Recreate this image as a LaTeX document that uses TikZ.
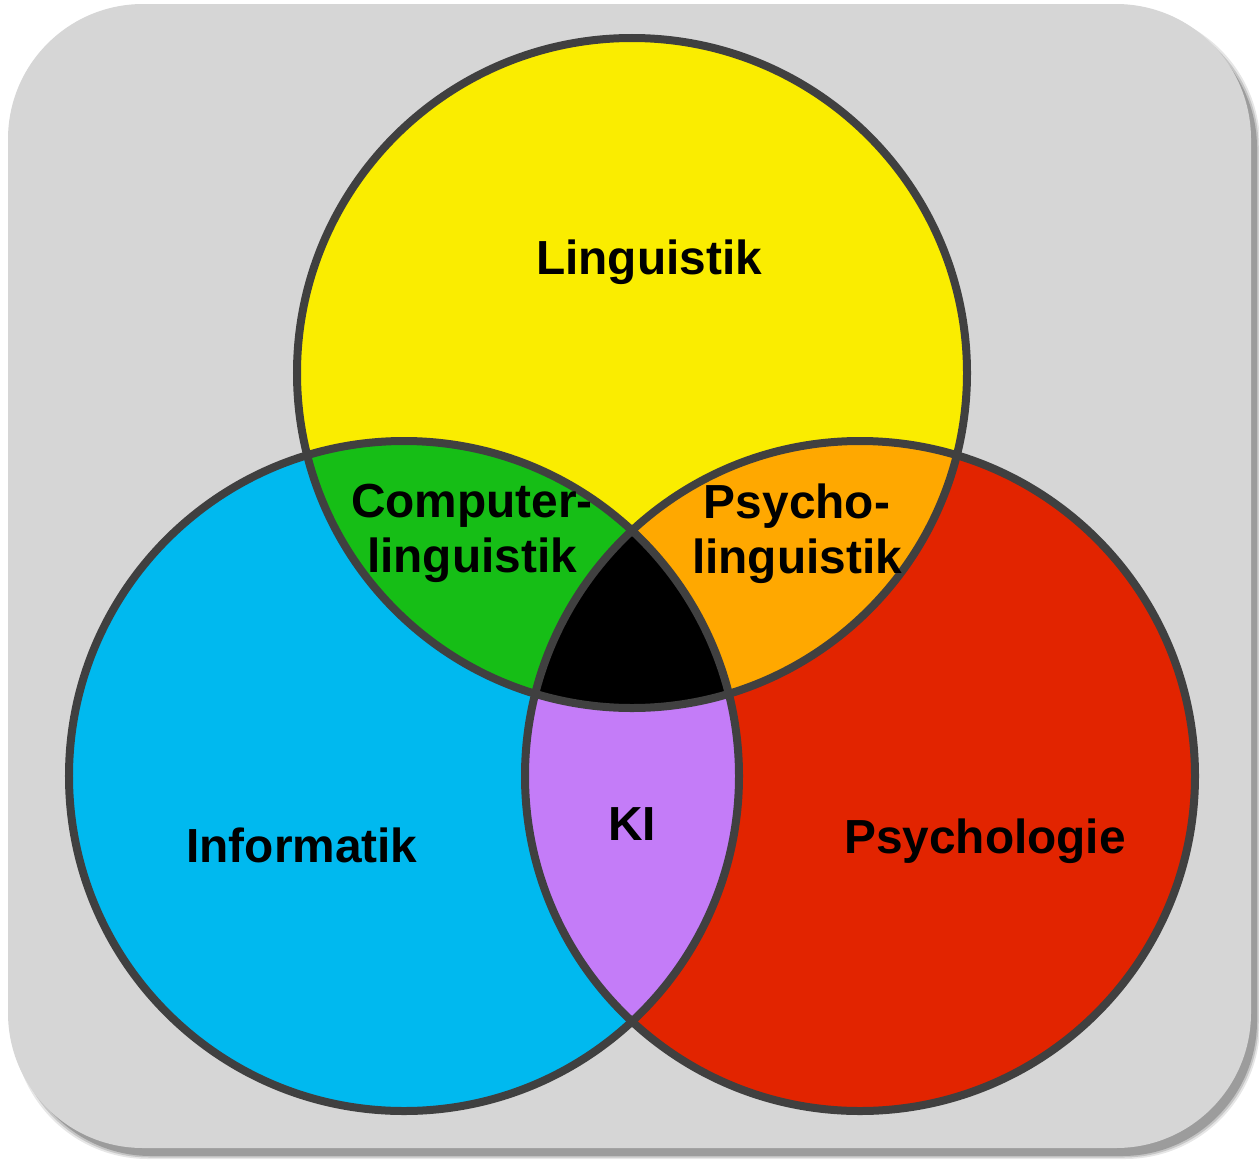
\documentclass[tikz,border=0pt]{standalone}
\usepackage{fontspec}
\setmainfont{Liberation Sans}
\definecolor{panel}{HTML}{D6D6D6}
\definecolor{panelshade}{HTML}{9C9C9C}
\definecolor{ringline}{HTML}{404040}
\definecolor{cyellow}{HTML}{FAED00}
\definecolor{cblue}{HTML}{00B9EF}
\definecolor{cred}{HTML}{E22400}
\definecolor{cgreen}{HTML}{16BE16}
\definecolor{corange}{HTML}{FFA800}
\definecolor{cviolet}{HTML}{C47CF8}
\begin{document}
\begin{tikzpicture}[x=1bp,y=-1bp,
  lab/.style={font=\fontsize{48}{55}\selectfont\bfseries, align=center,
    inner sep=0pt, anchor=base, text=black},
  ring/.style={draw=ringline, line width=8bp}]
\useasboundingbox (0,0) rectangle (1259,1160);

% panel with soft drop shadow
\foreach \e/\op in {3/0.25,1.5/0.45,0/1}
  \fill[panelshade, opacity=\op, rounded corners=135bp]
    (16-\e,13-\e) rectangle (1257+\e,1156+\e);
\fill[panel, rounded corners=135bp] (8,4) rectangle (1251,1148);

% circle centres
\def\rr{335bp}
\coordinate (cY) at (632,373);
\coordinate (cB) at (404,776);
\coordinate (cR) at (860,776);

% base discs
\fill[cyellow] (cY) circle[radius=\rr];
\fill[cblue] (cB) circle[radius=\rr];
\fill[cred] (cR) circle[radius=\rr];

% pairwise overlaps
\begin{scope}
  \clip (cY) circle[radius=\rr];
  \fill[cgreen] (cB) circle[radius=\rr];
  \fill[corange] (cR) circle[radius=\rr];
\end{scope}
\begin{scope}
  \clip (cB) circle[radius=\rr];
  \fill[cviolet] (cR) circle[radius=\rr];
\end{scope}
% triple overlap
\begin{scope}
  \clip (cY) circle[radius=\rr];
  \clip (cB) circle[radius=\rr];
  \fill[black] (cR) circle[radius=\rr];
\end{scope}

% outlines
\draw[ring] (cY) circle[radius=\rr];
\draw[ring] (cB) circle[radius=\rr];
\draw[ring] (cR) circle[radius=\rr];

% labels (two-line labels are placed by the baseline of their last line)
\node[lab] (ling) at (649,274) {Linguistik};
\node[lab] (compling) at (472,572) {Computer-\\linguistik};
\node[lab] (psyling) at (797,573) {Psycho-\\linguistik};
\node[lab] (inf) at (302,862) {Informatik};
\node[lab] (ki) at (632,840) {KI};
\node[lab] (psy) at (985,853) {Psychologie};
\end{tikzpicture}
\end{document}
